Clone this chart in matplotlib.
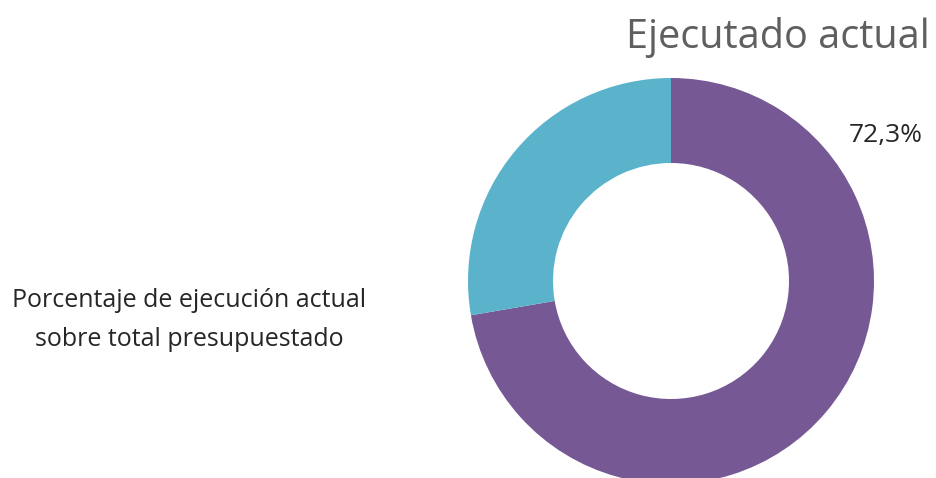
import matplotlib.pyplot as plt

plt.rcParams['font.family'] = ['Open Sans', 'DejaVu Sans']

# datos
labels = ['Ejecutado', 'Pendiente']
values = [72.3, 27.7]
colors = ['#765994', '#5BB3CB']
pct_text = '72,3%'
title = 'Ejecutado actual'
side_text = 'Porcentaje de ejecución actual\nsobre total presupuestado'

fig = plt.figure(figsize=(9.36, 4.78), dpi=100)
ax = fig.add_axes([0, 0, 1, 1])

# coordenadas en pixeles (y hacia arriba)
H = 478
cx, cy, r = 671, H - 281, 203
ax.pie(values, colors=colors, startangle=90, counterclock=False,
       center=(cx, cy), radius=r,
       wedgeprops=dict(width=85, linewidth=0))
ax.set_xlim(0, 936)
ax.set_ylim(0, H)
ax.set_aspect('equal')
ax.axis('off')

ax.text(930, H - 48, title, ha='right', va='baseline', fontsize=28.5,
        color='#5f5f5f')
ax.text(886, H - 142, pct_text, ha='center', va='baseline', fontsize=19,
        color='#262626')
ax.text(189, H - 307, side_text.split('\n')[0], ha='center', va='baseline',
        fontsize=18, color='#262626')
ax.text(189, H - 346, side_text.split('\n')[1], ha='center', va='baseline',
        fontsize=18, color='#262626')

fig.savefig('out.png', dpi=100)
